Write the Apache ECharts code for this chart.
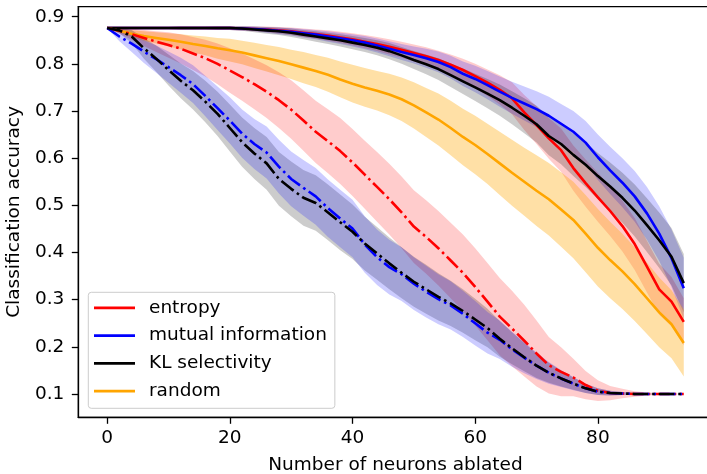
<!DOCTYPE html>
<html>
<head>
<meta charset="utf-8">
<script src="https://cdn.jsdelivr.net/npm/echarts@6/dist/echarts.min.js"></script>
<style>
  html, body { margin: 0; padding: 0; background: #fff; }
  #chart { width: 707px; height: 474px; }
</style>
</head>
<body>
<div id="chart"></div>
<script>
// Number of neurons ablated (shared x positions)
const ablated = [0, 2, 4, 6, 8, 10, 12, 14, 16, 18, 20, 22, 24, 26, 28, 30, 32, 34, 36, 38, 40, 42, 44, 46,
                 48, 50, 52, 54, 56, 58, 60, 62, 64, 66, 68, 70, 72, 74, 76, 78, 80, 82, 84, 86, 88, 90, 92, 94];

// Solid curves (mean accuracy)
const entropySolid = [0.876, 0.876, 0.876, 0.876, 0.876, 0.876, 0.876, 0.876, 0.876, 0.876, 0.876, 0.875, 0.874, 0.873, 0.871, 0.869,
  0.866, 0.863, 0.860, 0.856, 0.852, 0.847, 0.842, 0.836, 0.830, 0.823, 0.816, 0.808, 0.798, 0.787, 0.774, 0.760,
  0.745, 0.727, 0.697, 0.670, 0.642, 0.617, 0.579, 0.547, 0.517, 0.488, 0.456, 0.418, 0.370, 0.322, 0.296, 0.253];
const mutualSolid = [0.876, 0.876, 0.876, 0.876, 0.876, 0.876, 0.876, 0.876, 0.876, 0.876, 0.876, 0.875, 0.874, 0.872, 0.870, 0.868,
  0.865, 0.862, 0.858, 0.854, 0.850, 0.845, 0.839, 0.832, 0.825, 0.819, 0.812, 0.804, 0.793, 0.779, 0.768, 0.755,
  0.741, 0.728, 0.716, 0.704, 0.690, 0.673, 0.656, 0.633, 0.602, 0.574, 0.548, 0.519, 0.483, 0.440, 0.388, 0.324];
const klSolid = [0.876, 0.876, 0.876, 0.876, 0.876, 0.876, 0.876, 0.876, 0.876, 0.876, 0.876, 0.875, 0.873, 0.871, 0.869, 0.866,
  0.862, 0.858, 0.854, 0.850, 0.845, 0.840, 0.834, 0.827, 0.818, 0.808, 0.799, 0.789, 0.776, 0.763, 0.750, 0.737,
  0.723, 0.707, 0.690, 0.672, 0.647, 0.630, 0.607, 0.586, 0.562, 0.540, 0.516, 0.489, 0.458, 0.426, 0.391, 0.335];
const randomSolid = [0.876, 0.870, 0.864, 0.859, 0.855, 0.851, 0.847, 0.842, 0.838, 0.833, 0.829, 0.824, 0.818, 0.812, 0.806, 0.799,
  0.792, 0.785, 0.777, 0.767, 0.758, 0.750, 0.743, 0.735, 0.725, 0.712, 0.697, 0.682, 0.664, 0.645, 0.628, 0.609,
  0.589, 0.569, 0.550, 0.531, 0.513, 0.491, 0.469, 0.440, 0.410, 0.384, 0.360, 0.333, 0.303, 0.273, 0.248, 0.208];

// Dash-dot curves (mean accuracy)
const entropyDash = [0.876, 0.870, 0.863, 0.855, 0.847, 0.840, 0.832, 0.822, 0.812, 0.800, 0.786, 0.772, 0.757, 0.741, 0.723, 0.703,
  0.680, 0.656, 0.636, 0.615, 0.591, 0.565, 0.539, 0.513, 0.485, 0.455, 0.433, 0.409, 0.383, 0.357, 0.327, 0.296,
  0.264, 0.239, 0.213, 0.186, 0.161, 0.147, 0.135, 0.119, 0.107, 0.102, 0.101, 0.100, 0.100, 0.100, 0.100, 0.100];
const mutualDash = [0.876, 0.858, 0.843, 0.826, 0.810, 0.793, 0.776, 0.757, 0.732, 0.706, 0.680, 0.652, 0.630, 0.612, 0.582, 0.556,
  0.537, 0.519, 0.494, 0.472, 0.451, 0.417, 0.390, 0.369, 0.354, 0.334, 0.317, 0.301, 0.288, 0.270, 0.250, 0.230,
  0.215, 0.195, 0.177, 0.160, 0.145, 0.133, 0.122, 0.112, 0.105, 0.102, 0.101, 0.100, 0.100, 0.100, 0.100, 0.100];
const klDash = [0.876, 0.871, 0.858, 0.833, 0.811, 0.787, 0.764, 0.744, 0.720, 0.694, 0.664, 0.634, 0.610, 0.589, 0.556, 0.535,
  0.516, 0.505, 0.485, 0.464, 0.444, 0.419, 0.398, 0.377, 0.357, 0.338, 0.322, 0.306, 0.292, 0.276, 0.258, 0.240,
  0.217, 0.197, 0.178, 0.160, 0.145, 0.133, 0.122, 0.112, 0.105, 0.102, 0.101, 0.100, 0.100, 0.100, 0.100, 0.100];

// Half-widths of the shaded spread around each curve
const entropySolidSpread = [0, 0.001, 0.001, 0.002, 0.002, 0.002, 0.003, 0.003, 0.003, 0.004, 0.004, 0.005, 0.005, 0.006, 0.007, 0.008,
  0.009, 0.010, 0.011, 0.012, 0.013, 0.014, 0.015, 0.016, 0.017, 0.018, 0.019, 0.020, 0.022, 0.024, 0.026, 0.028,
  0.031, 0.034, 0.037, 0.040, 0.043, 0.046, 0.048, 0.050, 0.052, 0.053, 0.054, 0.055, 0.055, 0.054, 0.052, 0.050];
const mutualSolidSpread = [0, 0.001, 0.001, 0.002, 0.002, 0.002, 0.003, 0.003, 0.003, 0.004, 0.004, 0.005, 0.005, 0.006, 0.007, 0.008,
  0.009, 0.010, 0.011, 0.012, 0.013, 0.014, 0.015, 0.016, 0.017, 0.018, 0.020, 0.022, 0.024, 0.026, 0.028, 0.030,
  0.032, 0.034, 0.036, 0.038, 0.040, 0.042, 0.044, 0.046, 0.048, 0.050, 0.052, 0.054, 0.056, 0.058, 0.061, 0.065];
const klSolidSpread = [0, 0.001, 0.001, 0.002, 0.002, 0.002, 0.003, 0.003, 0.003, 0.004, 0.004, 0.005, 0.006, 0.007, 0.008, 0.009,
  0.010, 0.011, 0.012, 0.013, 0.014, 0.015, 0.016, 0.017, 0.018, 0.019, 0.021, 0.023, 0.025, 0.027, 0.029, 0.031,
  0.033, 0.035, 0.037, 0.039, 0.041, 0.043, 0.045, 0.047, 0.049, 0.051, 0.053, 0.055, 0.057, 0.059, 0.061, 0.062];
const randomSpread = [0, 0.004, 0.007, 0.010, 0.012, 0.014, 0.016, 0.018, 0.020, 0.022, 0.024, 0.025, 0.027, 0.028, 0.030, 0.031,
  0.033, 0.034, 0.036, 0.038, 0.040, 0.041, 0.042, 0.044, 0.046, 0.049, 0.052, 0.055, 0.058, 0.060, 0.062, 0.064,
  0.067, 0.070, 0.072, 0.075, 0.077, 0.079, 0.081, 0.082, 0.082, 0.081, 0.080, 0.078, 0.076, 0.074, 0.072, 0.071];
const entropyDashSpread = [0, 0.006, 0.012, 0.017, 0.022, 0.027, 0.031, 0.035, 0.039, 0.043, 0.047, 0.050, 0.053, 0.056, 0.059, 0.062,
  0.064, 0.066, 0.068, 0.070, 0.071, 0.072, 0.074, 0.075, 0.076, 0.077, 0.078, 0.079, 0.080, 0.081, 0.082, 0.082,
  0.082, 0.080, 0.076, 0.070, 0.060, 0.052, 0.040, 0.030, 0.022, 0.015, 0.010, 0.006, 0.003, 0.002, 0.001, 0];
const mutualDashSpread = [0, 0.010, 0.018, 0.024, 0.029, 0.033, 0.037, 0.040, 0.043, 0.046, 0.049, 0.051, 0.053, 0.055, 0.057, 0.058,
  0.059, 0.060, 0.061, 0.061, 0.061, 0.060, 0.059, 0.058, 0.057, 0.056, 0.055, 0.053, 0.051, 0.049, 0.047, 0.044,
  0.041, 0.037, 0.033, 0.028, 0.023, 0.018, 0.014, 0.010, 0.007, 0.005, 0.003, 0.002, 0.001, 0, 0, 0];
const klDashSpread = [0, 0.006, 0.014, 0.022, 0.028, 0.033, 0.037, 0.041, 0.044, 0.047, 0.050, 0.052, 0.054, 0.056, 0.057, 0.058,
  0.059, 0.059, 0.059, 0.059, 0.058, 0.057, 0.056, 0.055, 0.054, 0.053, 0.052, 0.050, 0.048, 0.046, 0.044, 0.041,
  0.038, 0.034, 0.030, 0.026, 0.021, 0.017, 0.013, 0.010, 0.007, 0.005, 0.003, 0.002, 0.001, 0, 0, 0];

// Axis ticks
const xTicks = [0, 20, 40, 60, 80];
const yTicks = [0.1, 0.2, 0.3, 0.4, 0.5, 0.6, 0.7, 0.8, 0.9];

// Legend entries
const methods = ['entropy', 'mutual information', 'KL selectivity', 'random'];

const RED = '#ff0000', BLUE = '#0000ff', BLACK = '#000000', ORANGE = '#ffa500';
const methodColors = [RED, BLUE, BLACK, ORANGE];
const FONT = 'DejaVu Sans';
const FS = 18.5;
const LW = 2.6;
const DASHDOT = [15.5, 4, 2.6, 4];

function pairs(vals) {
  return ablated.map((x, i) => [x, vals[i]]);
}

// Shaded region between curve - spread and curve + spread, drawn as one polygon
function band(id, vals, spread, fill) {
  return {
    type: 'custom',
    name: id,
    silent: true,
    z: 1,
    data: ablated.map((x, i) => [x, vals[i] - spread[i], vals[i] + spread[i]]),
    encode: { x: 0, y: [1, 2] },
    renderItem: function (params, api) {
      if (params.dataIndex !== 0) return null;
      const upper = ablated.map((x, i) => api.coord([x, vals[i] + spread[i]]));
      const lower = ablated.map((x, i) => api.coord([x, vals[i] - spread[i]])).reverse();
      return {
        type: 'polygon',
        shape: { points: upper.concat(lower) },
        style: { fill: fill, stroke: null }
      };
    }
  };
}

function curve(name, vals, color, dashed) {
  return {
    type: 'line',
    name: name,
    data: pairs(vals),
    symbol: 'none',
    showSymbol: false,
    z: 3,
    itemStyle: { color: color },
    lineStyle: { color: color, width: LW, type: dashed ? DASHDOT : 'solid', cap: 'butt', join: 'round' }
  };
}

const spine = { color: '#000000', width: 1.3 };

const chart = echarts.init(document.getElementById('chart'), null, { renderer: 'canvas' });

chart.setOption({
  animation: false,
  backgroundColor: '#ffffff',
  grid: {
    left: 78.3, top: 6.6, width: 634.3, height: 410.7,
    containLabel: false,
    outerBoundsMode: 'none',
    show: true, borderColor: '#000000', borderWidth: 1.3, backgroundColor: 'transparent'
  },
  xAxis: {
    type: 'value',
    min: -4.7, max: 98.7,
    axisLine: { show: true, onZero: false, lineStyle: spine },
    splitLine: { show: false },
    axisTick: { show: true, customValues: xTicks, length: 6.5, lineStyle: spine },
    axisLabel: {
      customValues: xTicks, margin: 11, color: '#000', fontFamily: FONT, fontSize: FS,
      formatter: v => String(v)
    },
    name: 'Number of neurons ablated',
    nameLocation: 'middle',
    nameGap: 38,
    nameTextStyle: { color: '#000', fontFamily: FONT, fontSize: FS }
  },
  yAxis: {
    type: 'value',
    min: 0.0506, max: 0.9214,
    axisLine: { show: true, onZero: false, lineStyle: spine },
    splitLine: { show: false },
    axisTick: { show: true, customValues: yTicks, length: 6.5, lineStyle: spine },
    axisLabel: {
      customValues: yTicks, margin: 14, color: '#000', fontFamily: FONT, fontSize: FS,
      formatter: v => v.toFixed(1)
    },
    name: 'Classification accuracy',
    nameLocation: 'middle',
    nameGap: 43,
    nameTextStyle: { color: '#000', fontFamily: FONT, fontSize: FS }
  },
  legend: {
    orient: 'vertical',
    left: 88.3, top: 292.3,
    padding: [5.5, 8, 7.1, 5.7],
    itemGap: 7.8,
    itemWidth: 41,
    itemHeight: 2.8,
    backgroundColor: 'rgba(255,255,255,0.8)',
    borderColor: '#cccccc',
    borderWidth: 1,
    borderRadius: 3,
    selectedMode: false,
    textStyle: { color: '#000', fontFamily: FONT, fontSize: FS, lineHeight: 20, padding: [0, 0, 0, 9] },
    data: methods.map((m, i) => ({
      name: m,
      icon: 'rect',
      itemStyle: { color: methodColors[i], borderWidth: 0 }
    }))
  },
  series: [
    band('entropy spread', entropySolid, entropySolidSpread, 'rgba(255,0,0,0.2)'),
    band('mutual information spread', mutualSolid, mutualSolidSpread, 'rgba(0,0,255,0.2)'),
    band('KL selectivity spread', klSolid, klSolidSpread, 'rgba(0,0,0,0.2)'),
    band('random spread', randomSolid, randomSpread, 'rgba(255,165,0,0.35)'),
    band('entropy dash spread', entropyDash, entropyDashSpread, 'rgba(255,0,0,0.2)'),
    band('KL selectivity dash spread', klDash, klDashSpread, 'rgba(0,0,0,0.2)'),
    band('mutual information dash spread', mutualDash, mutualDashSpread, 'rgba(0,0,255,0.2)'),
    curve('entropy', entropySolid, RED, false),
    curve('mutual information', mutualSolid, BLUE, false),
    curve('KL selectivity', klSolid, BLACK, false),
    curve('random', randomSolid, ORANGE, false),
    curve('entropy', entropyDash, RED, true),
    curve('mutual information', mutualDash, BLUE, true),
    curve('KL selectivity', klDash, BLACK, true)
  ]
});
</script>
</body>
</html>
